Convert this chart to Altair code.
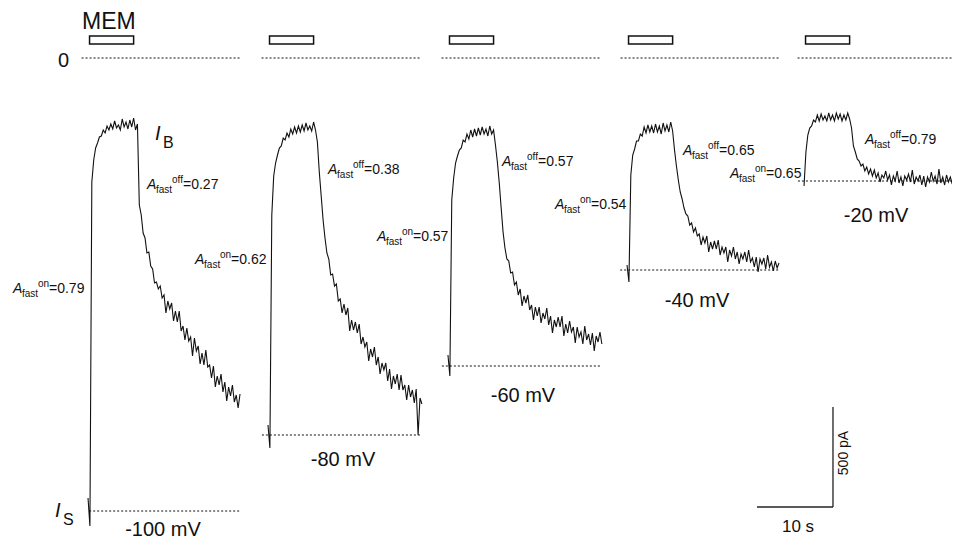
import altair as alt
import pandas as pd

# ---------------- data ----------------
DT = 0.25
VOLTAGES = ["-100 mV", "-80 mV", "-60 mV", "-40 mV", "-20 mV"]
TRACE_START = [10.53, 34.21, 57.89, 81.45, 104.74]  # s, onset of each sweep on the common time line
I_S = [-2265, -1885, -1540, -1060, -615]  # steady current before MEM (pA)
MEM_ON, MEM_OFF = 0.2, 6.0  # s after sweep onset

TRACE_M100 = [-2200, -2340, -620, -510, -450, -425, -395, -390, -360, -375,
              -340, -360, -330, -355, -315, -350, -335, -360, -305, -345,
              -320, -355, -310, -345, -300, -360, -330, -735, -785, -875,
              -900, -975, -970,
              -1040, -1055, -1125, -1120, -1155, -1140, -1200, -1185, -1275, -1215,
              -1255, -1225, -1315, -1265, -1320, -1265, -1365, -1340, -1410, -1350,
              -1415, -1395, -1490, -1400, -1465, -1440, -1530, -1475, -1535, -1460,
              -1545, -1535, -1600, -1540, -1645, -1590, -1635, -1580, -1670, -1620,
              -1715, -1645, -1690, -1635, -1720, -1685, -1750, -1680]
TRACE_M80 = [-1835, -1950, -785, -590, -525, -485, -450, -440, -400, -410,
             -375, -395, -355, -380, -345, -375, -340, -370, -335, -365,
             -325, -360, -340, -365, -320, -360, -420, -570, -690, -810,
             -900,
             -975, -1005, -1085, -1080, -1140, -1130, -1215, -1205, -1275, -1230,
             -1285, -1250, -1365, -1310, -1360, -1320, -1375, -1330, -1430, -1395,
             -1445, -1420, -1515, -1455, -1495, -1445, -1535, -1495, -1580, -1525,
             -1560, -1525, -1615, -1555, -1655, -1590, -1630, -1580, -1660, -1585,
             -1660, -1635, -1710, -1635, -1695, -1660, -1725, -1655,
             -1885, -1700, -1730]
TRACE_M60 = [-1485, -1590, -710, -600, -525, -490, -460, -450, -410, -420,
             -380, -405, -360, -395, -355, -390, -350, -385, -345, -380,
             -355, -390, -340, -380, -360, -435, -520, -625, -750, -870,
             -950,
             -1005, -1015, -1075, -1070, -1135, -1120, -1185, -1155, -1240, -1190,
             -1225, -1185, -1260, -1235, -1310, -1245, -1290, -1245, -1325, -1275,
             -1305, -1250, -1335, -1290, -1375, -1310, -1345, -1295, -1345, -1290,
             -1390, -1330, -1375, -1315, -1370, -1345, -1425, -1345, -1395, -1370,
             -1430, -1340, -1410, -1380, -1435, -1375, -1465, -1390, -1420, -1370,
             -1430]
TRACE_M40 = [-1035, -1120, -585, -485, -455, -415, -415, -380, -390, -345,
             -375, -335, -370, -340, -375, -330, -370, -340, -380, -325,
             -365, -335, -370, -320, -365, -460, -540, -610, -670, -705,
             -750,
             -780, -790, -835, -825, -870, -850, -890, -880, -935, -895,
             -925, -890, -970, -920, -955, -915, -955, -910, -985, -945,
             -975, -945, -1020, -960, -990, -945, -1005, -970, -1030, -980,
             -1005, -970, -1020, -960, -1020, -1000, -1045, -995, -1070, -1005,
             -1030, -1000, -1055, -985, -1045, -1020, -1065, -1015, -1050, -1025]
TRACE_M20 = [-640, -470, -385, -350, -340, -310, -320, -285, -315, -280,
             -310, -290, -315, -275, -310, -285, -315, -275, -305, -280,
             -315, -285, -310, -275, -305, -350, -440, -470, -505, -515,
             -540, -530, -565, -545, -580, -555, -590, -560,
             -600, -575, -620, -585, -600, -565, -610, -585, -635, -590,
             -615, -565, -625, -595, -640, -590, -610, -580, -620, -560,
             -630, -595, -615, -585, -635, -590, -645, -595, -620, -570,
             -615, -590, -630, -555, -625, -595, -635, -585, -620, -595, -630]
TRACES = [TRACE_M100, TRACE_M80, TRACE_M60, TRACE_M40, TRACE_M20]

A_FAST_KIND = ["on", "off", "on", "off", "on", "off", "on", "off", "on", "off"]
A_FAST_VALUE = ["=0.79", "=0.27", "=0.62", "=0.38", "=0.57", "=0.57", "=0.54", "=0.65", "=0.65", "=0.79"]

# ---------------- annotation layout (time s / current pA) ----------------
A_FAST_T = [0.66, 18.29, 24.61, 42.11, 48.55, 65.0, 71.97, 88.82, 95.0, 112.76]
A_FAST_Y = [-1175, -655, -1030, -580, -915, -540, -755, -485, -600, -430]
VOLT_T = [20.39, 44.08, 67.76, 90.66, 114.21]
VOLT_Y = [-2390, -2040, -1720, -1245, -820]

FONT = "Liberation Sans"

# ---------------- tables ----------------
trace_rows = []
for k, vals in enumerate(TRACES):
    for i, v in enumerate(vals):
        trace_rows.append({"sweep": VOLTAGES[k], "t": TRACE_START[k] + i * DT, "pA": v})
traces_df = pd.DataFrame(trace_rows)

zero_df = pd.DataFrame({"t": [s - 0.85 for s in TRACE_START],
                        "t2": [s + 20.1 for s in TRACE_START],
                        "pA": [0] * 5})
base_start = [0.15, -0.8, -0.8, -0.9, -0.8]
base_df = pd.DataFrame({"t": [s + b for s, b in zip(TRACE_START, base_start)],
                        "t2": [s + 20.1 for s in TRACE_START],
                        "pA": I_S})
mem_df = pd.DataFrame({"t": [s + MEM_ON for s in TRACE_START],
                       "t2": [s + MEM_OFF for s in TRACE_START],
                       "pA": [70] * 5, "pA2": [110] * 5})

X = alt.X("t:Q", scale=alt.Scale(domain=[0, 124.21], nice=False, zero=False), axis=None)
Y = alt.Y("pA:Q", scale=alt.Scale(domain=[-2410, 250], nice=False, zero=False), axis=None)

zero_layer = alt.Chart(zero_df).mark_rule(color="#111", strokeWidth=1, strokeDash=[2, 2]).encode(
    x=X, x2="t2:Q", y=Y)
base_layer = alt.Chart(base_df).mark_rule(color="#111", strokeWidth=1, strokeDash=[2, 2]).encode(
    x=X, x2="t2:Q", y=Y)
mem_layer = alt.Chart(mem_df).mark_rect(fill="white", stroke="#111", strokeWidth=1.5).encode(
    x=X, x2="t2:Q", y=Y, y2="pA2:Q")
trace_layer = alt.Chart(traces_df).mark_line(color="#111", strokeWidth=1.1).encode(
    x=X, y=Y, detail="sweep:N", order="t:Q")

# scale bars: 10 s and 500 pA
hbar = alt.Chart(pd.DataFrame({"t": [98.55], "t2": [108.55], "pA": [-2245]})).mark_rule(
    color="#222", strokeWidth=1.3).encode(x=X, x2="t2:Q", y=Y)
vbar = alt.Chart(pd.DataFrame({"t": [108.55], "pA": [-2245], "pA2": [-1745]})).mark_rule(
    color="#222", strokeWidth=1.3).encode(x=X, y=Y, y2="pA2:Q")


def text_layer(df, size, dx=0, dy=0, style="normal", align="left", baseline="alphabetic", angle=0):
    return alt.Chart(df).mark_text(font=FONT, fontSize=size, fontStyle=style, dx=dx, dy=dy,
                                   align=align, baseline=baseline, angle=angle, color="#111").encode(
        x=X, y=Y, text="label:N")


a_df = pd.DataFrame({"t": A_FAST_T, "pA": A_FAST_Y, "label": ["A"] * 10})
fast_df = pd.DataFrame({"t": A_FAST_T, "pA": A_FAST_Y, "label": ["fast"] * 10})
sup_df = pd.DataFrame({"t": A_FAST_T, "pA": A_FAST_Y, "label": A_FAST_KIND})
val_df = pd.DataFrame({"t": A_FAST_T, "pA": A_FAST_Y, "label": A_FAST_VALUE})
volt_df = pd.DataFrame({"t": VOLT_T, "pA": VOLT_Y, "label": VOLTAGES})
big_i_df = pd.DataFrame({"t": [19.34, 6.18], "pA": [-410, -2295], "label": ["I", "I"]})
sub_i_df = pd.DataFrame({"t": [19.34, 6.18], "pA": [-410, -2295], "label": ["B", "S"]})
mem_txt = pd.DataFrame({"t": [9.74], "pA": [145], "label": ["MEM"]})
zero_txt = pd.DataFrame({"t": [6.58], "pA": [-45], "label": ["0"]})
ten_s = pd.DataFrame({"t": [103.95], "pA": [-2370], "label": ["10 s"]})
pa_txt = pd.DataFrame({"t": [110.0], "pA": [-1975], "label": ["500 pA"]})

layers = [
    zero_layer, base_layer, mem_layer, trace_layer, hbar, vbar,
    text_layer(a_df, 14, style="italic"),
    text_layer(fast_df, 10, dx=9, dy=4),
    text_layer(sup_df, 10, dx=25, dy=-6),
    text_layer(val_df, 14, dx=36),
    text_layer(volt_df, 20, align="center"),
    text_layer(big_i_df, 20, style="italic"),
    text_layer(sub_i_df, 16, dx=8, dy=8),
    text_layer(mem_txt, 23),
    text_layer(zero_txt, 20),
    text_layer(ten_s, 17, align="center"),
    text_layer(pa_txt, 14, align="center", baseline="middle", angle=270),
]

chart = alt.layer(*layers).properties(
    width=944, height=532, padding=0, autosize="none", background="white"
).configure_view(stroke=None)

chart.save("out.html", embed_options={"renderer": "svg", "actions": False})
